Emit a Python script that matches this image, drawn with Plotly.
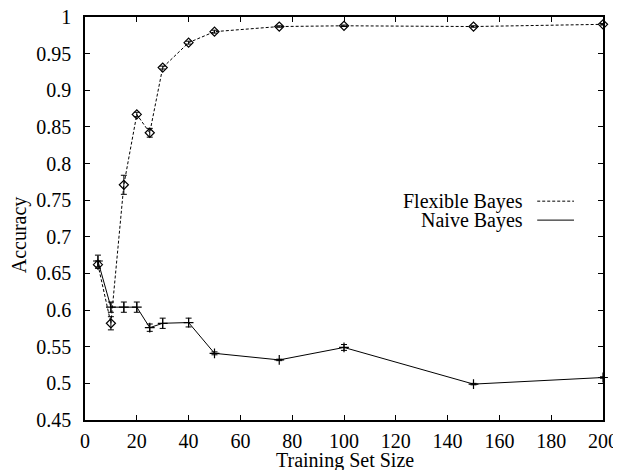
import plotly.graph_objects as go

train_size = [5, 10, 15, 20, 25, 30, 40, 50, 75, 100, 150, 200]
flex_acc = [0.662, 0.582, 0.771, 0.867, 0.842, 0.931, 0.965, 0.980, 0.987, 0.988, 0.987, 0.990]
flex_err = [0.005, 0.009, 0.013, 0.003, 0.006, 0.002, 0.002, 0.002, 0.001, 0.001, 0.001, 0.001]
naive_acc = [0.667, 0.604, 0.604, 0.604, 0.576, 0.582, 0.583, 0.541, 0.532, 0.549, 0.499, 0.508]
naive_err = [0.008, 0.007, 0.007, 0.007, 0.005, 0.007, 0.006, 0.002, 0.001, 0.004, 0.001, 0.001]
y_ticks = [0.45, 0.5, 0.55, 0.6, 0.65, 0.7, 0.75, 0.8, 0.85, 0.9, 0.95, 1]
y_tick_labels = ["0.45", "0.5", "0.55", "0.6", "0.65", "0.7", "0.75", "0.8", "0.85", "0.9", "0.95", "1"]
x_ticks = [0, 20, 40, 60, 80, 100, 120, 140, 160, 180, 200]

FONT = "Liberation Serif"
FS = 20

fig = go.Figure()
fig.add_trace(go.Scatter(
    x=train_size, y=flex_acc, mode="lines+markers", name="Flexible Bayes",
    line=dict(color="black", width=1, dash="3px,2px"),
    marker=dict(symbol="diamond-open", size=7, color="black", line=dict(width=1.2, color="black")),
    error_y=dict(type="data", array=flex_err, color="black", thickness=1, width=3),
    showlegend=False, cliponaxis=False,
))
fig.add_trace(go.Scatter(
    x=train_size, y=naive_acc, mode="lines+markers", name="Naive Bayes",
    line=dict(color="black", width=1),
    marker=dict(symbol="cross-thin-open", size=7, color="black", line=dict(width=1.2, color="black")),
    error_y=dict(type="data", array=naive_err, color="black", thickness=1, width=3),
    showlegend=False, cliponaxis=False,
))

# custom legend (text left of sample line)
leg_y = [0.543, 0.496]
leg_names = ["Flexible Bayes", "Naive Bayes"]
leg_dash = ["3px,2px", "solid"]
for yy, nm, ds in zip(leg_y, leg_names, leg_dash):
    fig.add_annotation(x=0.849, y=yy, xref="paper", yref="paper", text=nm, showarrow=False,
                       xanchor="right", yanchor="middle", font=dict(family=FONT, size=FS, color="black"))
    fig.add_shape(type="line", xref="paper", yref="paper", x0=0.873, x1=0.944, y0=yy, y1=yy,
                  line=dict(color="black", width=1, dash=ds))

# axis titles
fig.add_annotation(x=0.502, y=-0.101, xref="paper", yref="paper", text="Training Set Size",
                   showarrow=False, xanchor="center", yanchor="middle",
                   font=dict(family=FONT, size=FS, color="black"))
fig.add_annotation(x=-0.127, y=0.459, xref="paper", yref="paper", text="Accuracy", textangle=-90,
                   showarrow=False, xanchor="center", yanchor="middle",
                   font=dict(family=FONT, size=FS, color="black"))

axis_common = dict(
    showline=True, linecolor="black", linewidth=1.5, mirror="ticks",
    ticks="inside", ticklen=5, tickcolor="black", tickwidth=1,
    showgrid=False, zeroline=False, automargin=False, ticklabeloverflow="allow",
    tickfont=dict(family=FONT, size=FS, color="black"),
)
fig.update_xaxes(range=[0, 200], tickvals=x_ticks, ticklabelstandoff=2, **axis_common)
fig.update_yaxes(range=[0.45, 1], tickvals=y_ticks, ticktext=y_tick_labels, ticklabelstandoff=8,
                 **axis_common)
fig.update_layout(
    width=613, height=462,
    margin=dict(l=77, r=18, t=9, b=50),
    paper_bgcolor="white", plot_bgcolor="white",
    font=dict(family=FONT, size=FS, color="black"),
)
fig.write_html("out.html")
